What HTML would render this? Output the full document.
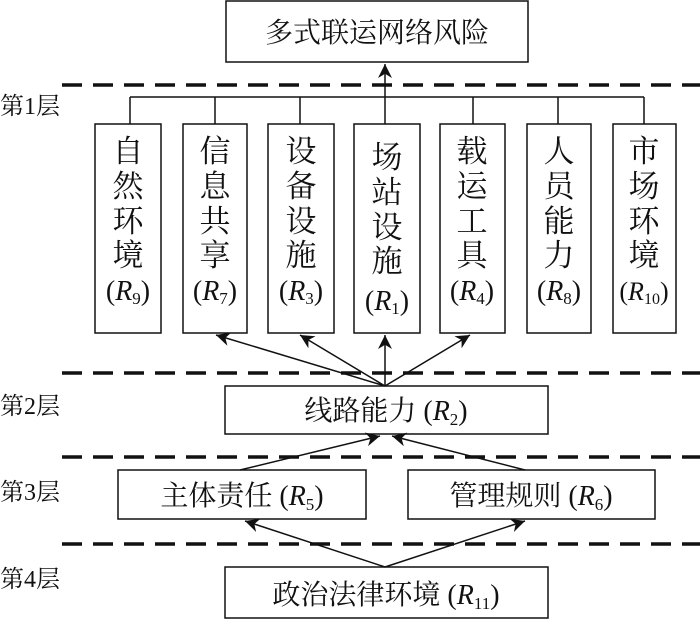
<!DOCTYPE html>
<html><head><meta charset="utf-8"><style>
html,body{margin:0;padding:0;background:#fff}
svg text{font-family:"Liberation Serif","Noto Serif CJK SC","Noto Sans CJK SC",serif;fill:#111}
</style></head><body>
<svg width="700" height="619" viewBox="0 0 700 619" xmlns="http://www.w3.org/2000/svg">
<defs><marker id="b" viewBox="0 0 10 10" refX="10" refY="5" markerWidth="22" markerHeight="14" markerUnits="userSpaceOnUse" orient="auto"><path d="M0,0 L10,5 L0,10 L3,5 z" fill="#111"/></marker></defs>
<g stroke="#111" stroke-width="1.5" fill="none">
<rect x="226" y="1" width="302" height="61"/>
<rect x="95" y="124" width="66" height="209"/>
<rect x="183" y="124" width="64" height="209"/>
<rect x="268" y="124" width="66" height="209"/>
<rect x="354" y="124" width="66" height="209"/>
<rect x="440" y="124" width="65" height="209"/>
<rect x="527" y="124" width="64" height="209"/>
<rect x="613" y="124" width="63" height="209"/>
<rect x="225" y="386" width="323" height="48"/>
<rect x="118" y="470" width="248" height="49"/>
<rect x="408" y="470" width="247" height="49"/>
<rect x="225" y="567" width="323" height="51"/>
<path d="M130,97 H644 M130,97 V124 M215,97 V124 M300,97 V124 M473,97 V124 M558,97 V124 M644,97 V124"/>
</g>
<g stroke="#111" stroke-width="3.5" stroke-dasharray="20,11">
<line x1="62" y1="85" x2="700" y2="85"/>
<line x1="62" y1="373" x2="700" y2="373"/>
<line x1="62" y1="457" x2="700" y2="457"/>
<line x1="62" y1="544" x2="700" y2="544"/>
</g>
<g stroke="#111" stroke-width="1.5" fill="none" marker-end="url(#b)">
<line x1="385" y1="124" x2="385" y2="64"/>
<line x1="385" y1="386" x2="216" y2="335"/>
<line x1="385" y1="386" x2="300" y2="335"/>
<line x1="385" y1="386" x2="385" y2="335"/>
<line x1="385" y1="386" x2="470" y2="335"/>
<line x1="240" y1="470" x2="380" y2="436"/>
<line x1="525" y1="470" x2="392" y2="436"/>
<line x1="385" y1="567" x2="245" y2="521"/>
<line x1="385" y1="567" x2="525" y2="521"/>
</g>
<g font-size="28">
<text x="377" y="42" text-anchor="middle">多式联运网络风险</text>
<text x="386" y="420" text-anchor="middle">线路能力 (<tspan font-style="italic">R</tspan><tspan font-size="17" dy="5">2</tspan><tspan dy="-5">)</tspan></text>
<text x="242" y="505" text-anchor="middle">主体责任 (<tspan font-style="italic">R</tspan><tspan font-size="17" dy="5">5</tspan><tspan dy="-5">)</tspan></text>
<text x="531" y="505" text-anchor="middle">管理规则 (<tspan font-style="italic">R</tspan><tspan font-size="17" dy="5">6</tspan><tspan dy="-5">)</tspan></text>
<text x="386" y="604" text-anchor="middle">政治法律环境 (<tspan font-style="italic">R</tspan><tspan font-size="17" dy="5">11</tspan><tspan dy="-5">)</tspan></text>
</g>
<g font-size="24">
<text x="0" y="114">第1层</text>
<text x="0" y="414">第2层</text>
<text x="0" y="500">第3层</text>
<text x="0" y="587">第4层</text>
</g>
<g font-size="31" text-anchor="middle">
<g transform="translate(128,0)"><text y="162">自</text><text y="197">然</text><text y="232">环</text><text y="266">境</text></g>
<g transform="translate(215,0)"><text y="162">信</text><text y="197">息</text><text y="232">共</text><text y="266">享</text></g>
<g transform="translate(301,0)"><text y="162">设</text><text y="197">备</text><text y="232">设</text><text y="266">施</text></g>
<g transform="translate(387,0)"><text y="168">场</text><text y="203">站</text><text y="238">设</text><text y="272">施</text></g>
<g transform="translate(472,0)"><text y="162">载</text><text y="197">运</text><text y="232">工</text><text y="266">具</text></g>
<g transform="translate(559,0)"><text y="162">人</text><text y="197">员</text><text y="232">能</text><text y="266">力</text></g>
<g transform="translate(644,0)"><text y="162">市</text><text y="197">场</text><text y="232">环</text><text y="266">境</text></g>
</g>
<g font-size="28" text-anchor="middle">
<text x="128" y="300">(<tspan font-style="italic">R</tspan><tspan font-size="17" dy="4">9</tspan><tspan dy="-4">)</tspan></text>
<text x="215" y="300">(<tspan font-style="italic">R</tspan><tspan font-size="17" dy="4">7</tspan><tspan dy="-4">)</tspan></text>
<text x="301" y="300">(<tspan font-style="italic">R</tspan><tspan font-size="17" dy="4">3</tspan><tspan dy="-4">)</tspan></text>
<text x="387" y="310">(<tspan font-style="italic">R</tspan><tspan font-size="17" dy="4">1</tspan><tspan dy="-4">)</tspan></text>
<text x="472" y="300">(<tspan font-style="italic">R</tspan><tspan font-size="17" dy="4">4</tspan><tspan dy="-4">)</tspan></text>
<text x="559" y="300">(<tspan font-style="italic">R</tspan><tspan font-size="17" dy="4">8</tspan><tspan dy="-4">)</tspan></text>
<text x="644" y="300" font-size="26">(<tspan font-style="italic">R</tspan><tspan font-size="16" dy="4">10</tspan><tspan dy="-4">)</tspan></text>
</g>
</svg>
</body></html>
